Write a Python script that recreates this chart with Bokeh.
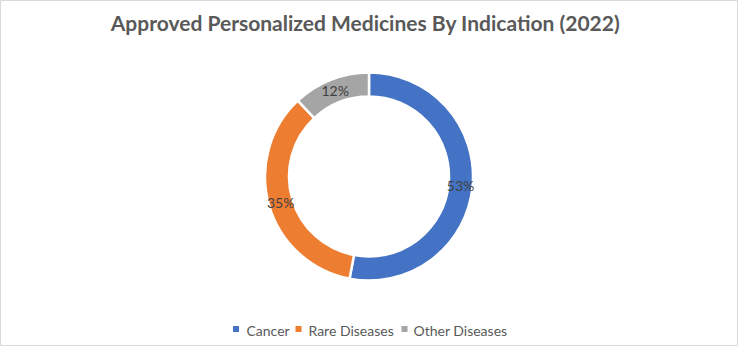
import math
from bokeh.plotting import figure
from bokeh.models import Range1d, ColumnDataSource
from bokeh.core.properties import value
from bokeh.embed import file_html
from bokeh.resources import INLINE

# ---- data ----
categories = ["Cancer", "Rare Diseases", "Other Diseases"]
shares = [53, 35, 12]
colors = ["#4472C4", "#ED7D31", "#A5A5A5"]
title_text = "Approved Personalized Medicines By Indication (2022)"

# ---- layout (pixels) ----
W, H = 738, 346
cx, cy = 368.5, H - 176
r_out, r_in = 104, 80
FONT = "Lato"

p = figure(width=W, height=H, output_backend="svg", toolbar_location=None,
           x_range=Range1d(0, W), y_range=Range1d(0, H), min_border=0)
p.axis.visible = False
p.grid.visible = False
p.outline_line_color = "#D9D9D9"
p.outline_line_width = 1
p.background_fill_color = "white"
p.border_fill_color = "white"

total = sum(shares)
starts, ends, mids = [], [], []
acc = 0.0
for s in shares:
    a0 = math.pi / 2 - 2 * math.pi * acc / total
    acc += s
    a1 = math.pi / 2 - 2 * math.pi * acc / total
    starts.append(a0)
    ends.append(a1)
    mids.append((a0 + a1) / 2)

r_mid = (r_out + r_in) / 2
src = ColumnDataSource(dict(
    start=starts, end=ends, color=colors, cat=categories,
    lx=[cx + r_mid * math.cos(m) for m in mids],
    ly=[cy + r_mid * math.sin(m) for m in mids],
    lab=[f"{s}%" for s in shares],
))

p.annular_wedge(x=cx, y=cy, inner_radius=r_in, outer_radius=r_out,
                start_angle="start", end_angle="end", direction="clock",
                fill_color="color", line_color="white", line_width=2.5,
                source=src)

p.text(x="lx", y="ly", text="lab", source=src, text_font=value(FONT),
       text_font_size="14px", text_color="#404040",
       text_align="center", text_baseline="middle")

# title
p.text(x=[365], y=[H - 22], text=[title_text], text_font=value(FONT),
       text_font_size="21px", text_font_style="bold", text_color="#595959",
       text_align="center", text_baseline="middle")

# legend (manual)
sq_x = [235.5, 298, 404]
tx_x = [246, 308, 413]
p.rect(x=sq_x, y=[H - 328.5] * 3, width=6, height=6, fill_color=colors,
       line_color=None)
p.text(x=tx_x, y=[H - 330] * 3, text=categories, text_font=value(FONT),
       text_font_size="14px", text_color="#595959",
       text_align="left", text_baseline="middle")

open("out.html", "w").write(file_html(p, INLINE))
